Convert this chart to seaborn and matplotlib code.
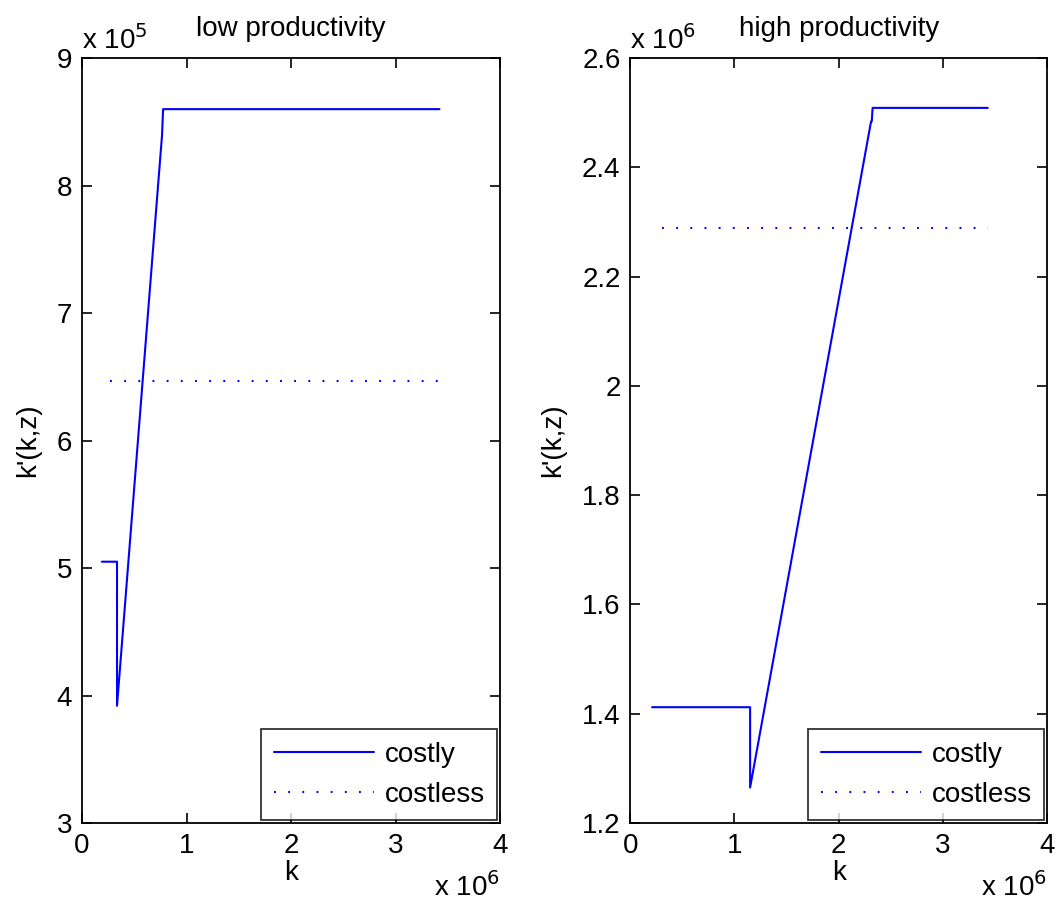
import matplotlib
matplotlib.use("Agg")
import matplotlib.pyplot as plt
import seaborn as sns
import pandas as pd
from matplotlib.ticker import FuncFormatter

# low productivity, costly adjustment
k_low = [0.19e6, 0.335e6, 0.335e6, 0.766e6, 0.776e6, 3.42e6]
kp_low = [5.05e5, 5.05e5, 3.92e5, 8.40e5, 8.60e5, 8.60e5]
# low productivity, costless adjustment
k_low_free = [0.27e6, 3.43e6]
kp_low_free = [6.47e5, 6.47e5]

# high productivity, costly adjustment
k_high = [0.21e6, 1.15e6, 1.15e6, 2.31e6, 2.317e6, 2.325e6, 3.43e6]
kp_high = [1.412e6, 1.412e6, 1.265e6, 2.484e6, 2.484e6, 2.509e6, 2.509e6]
# high productivity, costless adjustment
k_high_free = [0.30e6, 3.43e6]
kp_high_free = [2.29e6, 2.29e6]

titles = ["low productivity", "high productivity"]
y_scales = [1e5, 1e6]
y_limits = [(3e5, 9e5), (1.2e6, 2.6e6)]
y_steps = [1e5, 0.2e6]

sns.set_style("white")
plt.rcParams["font.family"] = ["Liberation Sans", "DejaVu Sans"]
plt.rcParams["text.color"] = "black"
plt.rcParams["axes.labelcolor"] = "black"
plt.rcParams["xtick.color"] = "black"
plt.rcParams["ytick.color"] = "black"
FS = 20

fig = plt.figure(figsize=(10.61, 9.16), dpi=100)
axes = [fig.add_axes([0.0773, 0.1015, 0.394, 0.835]),
        fig.add_axes([0.594, 0.1015, 0.393, 0.835])]

panels = [(k_low, kp_low, k_low_free, kp_low_free),
          (k_high, kp_high, k_high_free, kp_high_free)]

for i, (ax, (kc, yc, kf, yf)) in enumerate(zip(axes, panels)):
    costly = pd.DataFrame({"k": kc, "kp": yc})
    free = pd.DataFrame({"k": kf, "kp": yf})
    sns.lineplot(data=costly, x="k", y="kp", ax=ax, estimator=None, sort=False,
                 color="#0000ff", linewidth=1.5, label="costly")
    sns.lineplot(data=free, x="k", y="kp", ax=ax, estimator=None, sort=False,
                 color="#0000ff", linewidth=1.5, label="costless")
    ax.lines[-1].set_linestyle((0, (0.9, 5.9)))

    ys = y_scales[i]
    lo, hi = y_limits[i]
    ax.set_xlim(0, 4e6)
    ax.set_ylim(lo, hi)
    ax.set_xticks([0, 1e6, 2e6, 3e6, 4e6])
    n = int(round((hi - lo) / y_steps[i]))
    ax.set_yticks([lo + j * y_steps[i] for j in range(n + 1)])
    ax.xaxis.set_major_formatter(FuncFormatter(lambda v, p: f"{v / 1e6:g}"))
    ax.yaxis.set_major_formatter(FuncFormatter(lambda v, p, s=ys: f"{round(v / s, 6):g}"))
    ax.tick_params(direction="in", length=7, width=1.2, labelsize=FS,
                   top=True, right=True, bottom=True, left=True, pad=7)
    for sp in ax.spines.values():
        sp.set_visible(True)
        sp.set_color("black")
        sp.set_linewidth(1.3)

    ax.set_xlabel("k", fontsize=FS, labelpad=1)
    ax.set_ylabel("k'(k,z)", fontsize=FS, labelpad=11)
    ax.set_title(titles[i], fontsize=FS, pad=16)

    exp = 5 if ys == 1e5 else 6
    ax.text(0.0, 1.004, r"x 10$^{%d}$" % exp, transform=ax.transAxes,
            fontsize=FS, ha="left", va="bottom")
    ax.text(1.0, -0.064, r"x 10$^{6}$", transform=ax.transAxes,
            fontsize=FS, ha="right", va="top")

    leg = ax.legend(loc="lower right", fontsize=FS, frameon=True, fancybox=False,
                    borderaxespad=0.1, handlelength=3.6, borderpad=0.45,
                    labelspacing=0.5, handletextpad=0.4)
    leg.get_frame().set_edgecolor("black")
    leg.get_frame().set_linewidth(1.3)

fig.savefig("out.png", dpi=100)
